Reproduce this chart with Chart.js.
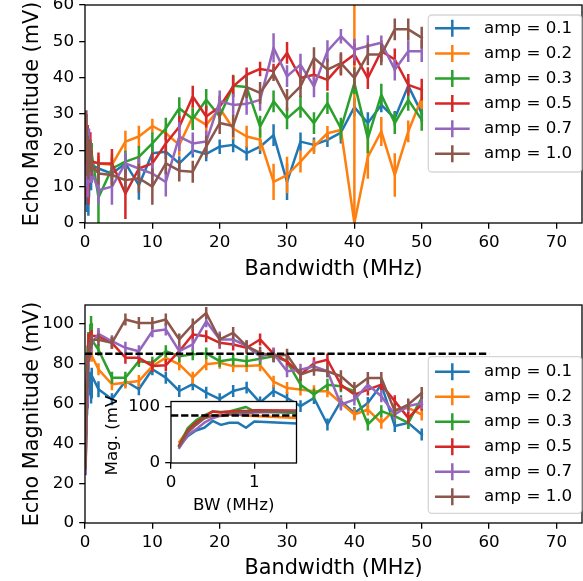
<!DOCTYPE html>
<html>
<head>
<meta charset="utf-8">
<script src="https://cdn.jsdelivr.net/npm/chart.js@4.4.1/dist/chart.umd.min.js"></script>
<style>
  html, body { margin: 0; padding: 0; background: #fff; }
  #fig { position: relative; width: 583px; height: 581px; overflow: hidden; }
  #fig canvas { position: absolute; }
</style>
</head>
<body>
<div id="fig">
  <canvas id="topChart" width="583" height="290" style="left:0;top:0;width:583px;height:290px"></canvas>
  <canvas id="bottomChart" width="583" height="291" style="left:0;top:290px;width:583px;height:291px"></canvas>
  <canvas id="insetChart" width="210" height="125" style="left:95px;top:395px;width:210px;height:125px"></canvas>
</div>
<script>
// Bandwidth steps (MHz)
var bandwidthMHz = [0.1, 0.2, 0.3, 0.4, 0.5, 0.6, 0.7, 0.8, 0.9, 1.0, 2, 4, 6, 8, 10, 12, 14, 16, 18, 20, 22, 24, 26, 28, 30, 32, 34, 36, 38, 40, 42, 44, 46, 48, 50];
var ampLabels = ['amp = 0.1', 'amp = 0.2', 'amp = 0.3', 'amp = 0.5', 'amp = 0.7', 'amp = 1.0'];

// Top panel: echo magnitude (mV) and error
var topAmp01 = [10, 14, 7, 12, 6, 10, 13, 15, 12, 16, 15, 13.6, 16.4, 10.4, 19.2, 19.6, 16.4, 20, 19, 21, 21.5, 19.2, 21, 24.2, 11.3, 22.4, 21.5, 22.9, 24.9, 31.9, 27.5, 32.5, 28.8, 37.8, 30.2];
var topAmp02 = [22, 18, 20, 17, 19, 18, 17, 16, 17, 17, 16.4, 16, 22.4, 23.8, 26.7, 24.7, 21.5, 29.3, 27, 31.6, 26, 23.8, 22.9, 11.3, 13.2, 16.9, 21, 24.7, 25.6, 0, 18.2, 25.2, 13.2, 25.2, 34.4];
var topAmp03 = [14, 20, 12, 18, 15, 20, 22, 19, 18, 19, 7, 15, 16.9, 18.2, 21.9, 26, 31.6, 28.6, 33.9, 29.3, 37.8, 37.4, 26.5, 33.5, 28.8, 32, 27.5, 33, 26, 38.5, 23.3, 35.3, 27.5, 33.9, 28.4];
var topAmp05 = [15, 24, 12, 22, 10, 18, 20, 22, 17, 17, 16.4, 16.4, 8.1, 15, 16.4, 21.9, 26.5, 34.8, 29.3, 32, 37.6, 40.8, 42.4, 41.8, 46.8, 39.9, 40.8, 39.4, 43.6, 46.4, 39.9, 47.3, 45, 38, 36.7];
var topAmp07 = [16, 24, 18, 12, 20, 22, 15, 18, 16, 14, 9, 10, 16.4, 15, 13.6, 11.3, 23.8, 21.9, 22.4, 33.5, 32.5, 32.8, 33.9, 48.2, 40.4, 43.6, 37.6, 47.3, 51.4, 47.7, 48.7, 49.6, 42.2, 47.3, 47.3];
var topAmp10 = [22, 26, 18, 20, 16, 19, 18, 20, 17, 16, 13.6, 13.2, 11.8, 12.3, 10, 16.4, 14.4, 14.1, 21, 27.5, 26.7, 37.4, 35.8, 41.1, 33.9, 37.6, 45.4, 42.2, 44, 39.9, 46.4, 46.4, 53.3, 53.3, 51];

var topErr01 = [5, 5, 4, 4, 4, 3, 3, 3, 3, 3, 2.5, 3, 2.5, 4, 2.5, 2, 2, 2, 2, 2, 2, 2, 2, 3, 5, 2.5, 2, 2, 3, 2.5, 3, 2, 2, 2, 2.5];
var topErr02 = [3, 3, 3, 3, 3, 2, 2, 2, 2, 2, 2, 3, 3, 3, 2, 2, 3, 3, 3, 3, 3, 3, 3, 5, 5, 3, 2, 2, 2, 65, 6, 4, 6, 3, 3];
var topErr03 = [4, 5, 4, 4, 3, 3, 3, 3, 3, 3, 7, 3, 3, 3, 3, 3, 3, 3, 3, 3, 3, 3, 3, 3, 3, 3, 3, 3, 3, 3, 4, 3, 3, 3, 3];
var topErr05 = [8, 6, 5, 5, 5, 4, 4, 3, 3, 3, 3, 4, 7, 3, 3, 3, 3, 3, 3, 3, 3, 2, 2, 2, 3, 3, 3, 3, 3, 3, 3, 3, 3, 3, 3];
var topErr07 = [6, 6, 5, 5, 4, 4, 4, 4, 3, 3, 4, 5, 3, 3, 3, 4, 4, 3, 3, 3, 3, 3, 3, 4, 3, 3, 3, 3, 2, 3, 3, 2, 3, 3, 3];
var topErr10 = [6, 5, 5, 4, 4, 4, 3, 3, 3, 3, 3, 3, 3, 4, 5, 3, 3, 3, 3, 3, 3, 3, 3, 2, 3, 3, 3, 3, 3, 3, 3, 3, 3, 3, 3];

// Bottom panel: echo magnitude (mV) and error
var botAmp01 = [30, 48, 58, 63, 75, 68, 72, 72, 63, 74, 67.2, 62.2, 71.3, 67.2, 77.2, 73, 66.3, 69.7, 65.5, 62.2, 66.3, 68, 60.5, 66.3, 62.8, 58.7, 62.8, 49.5, 61.2, 55.3, 60.3, 69.5, 48.7, 50.3, 44.5];
var botAmp02 = [38, 58, 70, 80, 84, 85, 86, 86, 85, 84, 77.2, 69.7, 70.5, 71.3, 78.8, 83, 79.7, 73, 79.7, 80.5, 78.8, 78.8, 79.2, 71, 67.8, 67, 66.2, 66.2, 60.3, 54.5, 57, 50.3, 57, 57.8, 54.5];
var botAmp03 = [32, 62, 76, 85, 92, 91, 92, 96, 100, 92, 87, 73, 73, 81.3, 80.5, 86.3, 83.8, 84.7, 85.2, 81.3, 82.2, 81.3, 82.5, 83.7, 81.2, 69.5, 64.5, 69.5, 68.7, 66.2, 49.5, 56.2, 53.7, 50.3, 62.8];
var botAmp05 = [32, 58, 72, 82, 92, 90, 92, 93, 93, 94, 93.8, 90.5, 83, 83, 78.8, 79.2, 86.3, 94.7, 93.8, 90.5, 89.7, 88, 92.2, 85, 81.2, 74.5, 80.3, 82, 69.5, 64.5, 67, 69.5, 61.2, 52.8, 59.5];
var botAmp07 = [27, 50, 60, 72, 80, 85, 87, 86, 88, 90, 95, 91.3, 88, 86.3, 96.3, 97.2, 86.3, 89.7, 101.3, 92.2, 92.2, 88.8, 83.8, 85, 76.2, 77, 78.7, 76.2, 59.5, 62, 69.5, 63.7, 54.5, 58.7, 60.3];
var botAmp10 = [30, 55, 68, 80, 85, 84, 88, 90, 91, 92, 92, 90.5, 102.2, 100.5, 100.5, 102.2, 92.2, 99.7, 105.5, 92.2, 95.5, 88.8, 85.5, 83.8, 84.5, 74.5, 77, 76.2, 73.7, 67.8, 72.8, 72.8, 56.2, 59.5, 65.3];

var botErr01 = [3, 4, 4, 4, 5, 4, 4, 3, 3, 4, 4, 3, 3, 3, 3, 3, 3, 3, 3, 3, 3, 3, 3, 3, 3, 3, 3, 3, 3, 3, 3, 3, 3, 3, 3];
var botErr02 = [3, 3, 3, 3, 3, 3, 3, 3, 3, 3, 3, 3, 3, 3, 3, 3, 3, 3, 3, 3, 3, 3, 3, 3, 3, 3, 3, 3, 3, 3, 3, 3, 3, 3, 3];
var botErr03 = [3, 4, 4, 4, 4, 4, 4, 4, 4, 4, 3, 3, 3, 3, 3, 3, 3, 3, 3, 3, 3, 3, 3, 3, 3, 3, 3, 3, 3, 3, 3, 3, 3, 3, 3];
var botErr05 = [3, 3, 3, 3, 3, 3, 3, 3, 3, 3, 3, 3, 3, 3, 3, 3, 3, 3, 3, 3, 3, 3, 3, 3, 3, 3, 3, 3, 3, 3, 3, 3, 3, 3, 3];
var botErr07 = [3, 3, 3, 3, 3, 3, 3, 3, 3, 3, 3, 3, 3, 3, 3, 3, 3, 3, 3, 4, 3, 3, 3, 3, 3, 3, 3, 3, 3, 3, 3, 3, 3, 3, 3];
var botErr10 = [3, 3, 3, 3, 3, 3, 3, 3, 3, 3, 3, 3, 3, 3, 3, 3, 3, 3, 3, 3, 3, 3, 3, 3, 3, 3, 3, 3, 3, 3, 3, 3, 3, 3, 3];

// Reference level (dashed line)
var thresholdX = [0, 60];
var thresholdMV = [85, 85];

// Tick labels
var bwTicks = [0, 10, 20, 30, 40, 50, 60, 70];
var topMagTicks = [0, 10, 20, 30, 40, 50, 60];
var botMagTicks = [0, 20, 40, 60, 80, 100];
var insetBwTicks = [0, 1];
var insetMagTicks = [0, 100];

// Define colors
var seriesColors = ['#1f77b4', '#ff7f0e', '#2ca02c', '#d62728', '#9467bd', '#8c564b'];

Chart.defaults.font.family = "'DejaVu Sans', sans-serif";
Chart.defaults.color = '#000';
Chart.defaults.animation = false;

function toPoints(vals) {
  return vals.map(function (v, i) { return { x: bandwidthMHz[i], y: v }; });
}

function ampDatasets(valueLists, errLists) {
  return valueLists.map(function (vals, i) {
    return {
      label: ampLabels[i],
      data: toPoints(vals),
      errors: errLists ? errLists[i] : null,
      borderColor: seriesColors[i],
      backgroundColor: seriesColors[i],
      borderWidth: 2.5,
      borderCapStyle: 'square',
      borderJoinStyle: 'round',
      pointRadius: 0,
      tension: 0,
      clip: 0,
      order: 10 - i
    };
  });
}

function thresholdDataset() {
  return {
    label: 'threshold',
    data: thresholdX.map(function (x, i) { return { x: x, y: thresholdMV[i] }; }),
    borderColor: '#000',
    borderWidth: 2.5,
    borderDash: [7.3, 2.8],
    pointRadius: 0,
    clip: 0,
    order: 0
  };
}

// vertical error bars, drawn right after each line so stacking matches
var errorBars = {
  id: 'errorBars',
  afterDatasetDraw: function (chart, args) {
    var ds = chart.data.datasets[args.index];
    if (!ds.errors) return;
    var ctx = chart.ctx, a = chart.chartArea, xs = chart.scales.x, ys = chart.scales.y;
    ctx.save();
    ctx.beginPath();
    ctx.rect(a.left, a.top, a.right - a.left, a.bottom - a.top);
    ctx.clip();
    ctx.strokeStyle = ds.borderColor;
    ctx.lineWidth = ds.borderWidth;
    ctx.beginPath();
    ds.data.forEach(function (p, i) {
      var px = xs.getPixelForValue(p.x);
      ctx.moveTo(px, ys.getPixelForValue(p.y - ds.errors[i]));
      ctx.lineTo(px, ys.getPixelForValue(p.y + ds.errors[i]));
    });
    ctx.stroke();
    ctx.restore();
  }
};

// axes box (all four spines) + optional white face
var frame = {
  id: 'frame',
  beforeDraw: function (chart, args, opts) {
    if (!opts.fill) return;
    var a = chart.chartArea;
    chart.ctx.save();
    chart.ctx.fillStyle = '#fff';
    chart.ctx.fillRect(a.left, a.top, a.right - a.left, a.bottom - a.top);
    chart.ctx.restore();
  },
  afterDatasetsDraw: function (chart) {
    var a = chart.chartArea, ctx = chart.ctx;
    ctx.save();
    ctx.strokeStyle = '#000';
    ctx.lineWidth = 1.3;
    ctx.strokeRect(a.left, a.top, a.right - a.left, a.bottom - a.top);
    ctx.restore();
  }
};

// matplotlib-like legend with errorbar handles
var ampLegend = {
  id: 'ampLegend',
  afterDraw: function (chart, args, o) {
    if (!o.box) return;
    var ctx = chart.ctx, b = o.box;
    ctx.save();
    ctx.beginPath();
    ctx.roundRect(b[0], b[1], b[2] - b[0], b[3] - b[1], 3.5);
    ctx.fillStyle = 'rgba(255,255,255,0.8)';
    ctx.fill();
    ctx.strokeStyle = 'rgba(204,204,204,0.8)';
    ctx.lineWidth = 1.3;
    ctx.stroke();
    ctx.font = '16.7px "DejaVu Sans"';
    ctx.textBaseline = 'middle';
    ctx.textAlign = 'left';
    ampLabels.forEach(function (lab, i) {
      var y = o.row0 + o.step * i;
      ctx.strokeStyle = seriesColors[i];
      ctx.lineWidth = 2.5;
      ctx.beginPath();
      ctx.moveTo(435, y); ctx.lineTo(469.7, y);
      ctx.moveTo(452.3, y - 8.5); ctx.lineTo(452.3, y + 8.5);
      ctx.stroke();
      ctx.fillStyle = '#000';
      ctx.fillText(lab, 484, y);
    });
    ctx.restore();
  }
};

function xAxis(max, tickVals, title, fitHeight, titlePad, titleSize) {
  return {
    type: 'linear', min: 0, max: max,
    afterBuildTicks: function (s) { s.ticks = tickVals.map(function (v) { return { value: v }; }); },
    afterFit: function (s) { s.height = fitHeight; s.paddingLeft = 0; s.paddingRight = 0; },
    ticks: { font: { size: 16.7 }, padding: 4.2, maxRotation: 0, autoSkip: false, callback: function (v) { return String(v); } },
    grid: { drawOnChartArea: false, drawTicks: true, tickLength: 5.8, color: '#000', lineWidth: 1.3 },
    border: { display: false },
    title: { display: true, text: title, font: { size: titleSize }, padding: { top: 0, bottom: titlePad } }
  };
}

function yAxis(max, tickVals, title, fitWidth, titlePad, titleSize) {
  return {
    type: 'linear', min: 0, max: max,
    afterBuildTicks: function (s) { s.ticks = tickVals.map(function (v) { return { value: v }; }); },
    afterFit: function (s) { s.width = fitWidth; s.paddingTop = 0; s.paddingBottom = 0; },
    ticks: { font: { size: 16.7 }, padding: 5.2, autoSkip: false, callback: function (v) { return String(v); } },
    grid: { drawOnChartArea: false, drawTicks: true, tickLength: 5.8, color: '#000', lineWidth: 1.3 },
    border: { display: false },
    title: { display: true, text: title, font: { size: titleSize }, padding: { top: titlePad, bottom: 0 } }
  };
}

function baseOptions(pad, scales, legendOpts, fillFace) {
  return {
    responsive: false,
    maintainAspectRatio: false,
    devicePixelRatio: 1,
    layout: { padding: pad },
    scales: scales,
    plugins: {
      legend: { display: false },
      tooltip: { enabled: false },
      frame: { fill: fillFace },
      ampLegend: legendOpts
    }
  };
}

var topChart = new Chart(document.getElementById('topChart'), {
  type: 'line',
  data: {
    datasets: ampDatasets([topAmp01, topAmp02, topAmp03, topAmp05, topAmp07, topAmp10],
                          [topErr01, topErr02, topErr03, topErr05, topErr07, topErr10])
  },
  options: baseOptions({ top: 5, right: 1, left: 0, bottom: 0 }, {
    x: xAxis(73.8, bwTicks, 'Bandwidth (MHz)', 67, 7.5, 20.8),
    y: yAxis(60, topMagTicks, 'Echo Magnitude (mV)', 85, 20.5, 20.8)
  }, { box: [428.3, 15, 581.7, 172], row0: 28.3, step: 25.1 }, false),
  plugins: [errorBars, frame, ampLegend]
});

var bottomChart = new Chart(document.getElementById('bottomChart'), {
  type: 'line',
  data: {
    datasets: ampDatasets([botAmp01, botAmp02, botAmp03, botAmp05, botAmp07, botAmp10],
                          [botErr01, botErr02, botErr03, botErr05, botErr07, botErr10])
      .concat([thresholdDataset()])
  },
  options: baseOptions({ top: 15, right: 1, left: 0, bottom: 0 }, {
    x: xAxis(73.8, bwTicks, 'Bandwidth (MHz)', 58, 0, 20.8),
    y: yAxis(109.5, botMagTicks, 'Echo Magnitude (mV)', 85, 20.5, 20.8)
  }, { box: [428.3, 66.7, 581.7, 223.3], row0: 81.7, step: 25 }, false),
  plugins: [errorBars, frame, ampLegend]
});

// Inset: low-bandwidth zoom of the bottom panel
var insetChart = new Chart(document.getElementById('insetChart'), {
  type: 'line',
  data: {
    datasets: ampDatasets([botAmp01, botAmp02, botAmp03, botAmp05, botAmp07, botAmp10], null)
      .concat([thresholdDataset()])
  },
  options: baseOptions({ top: 6.5, right: 8.5, left: 0, bottom: 0 }, {
    x: xAxis(1.506, insetBwTicks, 'BW (MHz)', 57, 4, 16.7),
    y: yAxis(109.8, insetMagTicks, 'Mag. (mV)', 76, 7.5, 16.7)
  }, {}, true),
  plugins: [errorBars, frame, ampLegend]
});
</script>
</body>
</html>
